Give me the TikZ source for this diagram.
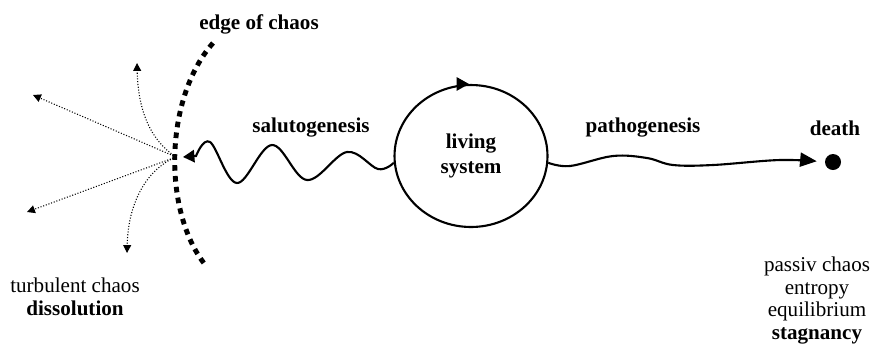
\documentclass[tikz,border=0pt]{standalone}
\usepackage{fontspec}
\setmainfont{Liberation Serif}
\usetikzlibrary{arrows.meta,shapes.geometric,calc}

\tikzset{
	lbl/.style={font=\fontsize{12}{13}\selectfont\bfseries},
	plain/.style={align=center, inner sep=0pt, font=\fontsize{12}{13}\selectfont},
	wave/.style={line width=1.2pt},
	spray/.style={densely dotted, line width=0.6pt, -{Triangle[length=4.5pt,width=4.5pt]}},
	edgeline/.style={line width=2.8pt, dash pattern=on 3.2pt off 3pt}
}

\begin{document}
\begin{tikzpicture}[x=0.02cm, y=-0.02cm]

		\useasboundingbox (0,0) rectangle (871,343);

		\node[ellipse, draw, line width=1.2pt, minimum width=3.06cm, minimum height=2.84cm, inner sep=0pt, align=center, font=\fontsize{12}{14}\selectfont\bfseries] (sys) at (471,156) {living\\system};
		\draw[line width=1.2pt, -{Triangle[length=7pt,width=7.5pt]}] ($(sys.north)+(-14,0)$) -- ($(sys.north)+(-2,0)$);

		\node[circle, fill, inner sep=0pt, minimum size=0.32cm] (death) at (833,162) {};
		\node[lbl] (deathlbl) at (835,128) {death};
		\node[plain, anchor=north, font=\fontsize{12}{12.8}\selectfont] (stag) at (817,257) {passiv chaos\\entropy\\equilibrium\\\textbf{stagnancy}};

		\coordinate (hub) at (176,157);
		\coordinate (edge) at (183,157);
		\coordinate (t1) at (33,95);
		\coordinate (t2) at (27,212);
		\coordinate (t3) at (137,63);
		\coordinate (t4) at (127,253);

		\draw[edgeline] (213,43) .. controls (163,100) and (163,215) .. (207,267);

		\node[lbl] (edgelbl) at (259,24) {edge of chaos};
		\node[lbl] (salulbl) at (311,128) {salutogenesis};
		\node[lbl] (pathlbl) at (643,128) {pathogenesis};
		\node[plain, anchor=north] (turb) at (75,278) {turbulent chaos\\\textbf{dissolution}};

		\draw[wave, -{Triangle[length=6.5pt,width=7pt]}] plot[smooth, tension=0.6] coordinates {(sys.185) (378,169) (347,152) (307,180) (272,145) (237,183) (210,142) (196,156)} -- (edge);
		\draw[wave, shorten >=4.5pt, -{Triangle[length=9.5pt,width=8pt]}] plot[smooth, tension=0.6] coordinates {(sys.355) (570,166) (613,156) (647,158) (673,165) (713,165) (780,160) (death.west)};

		\draw[spray] (hub) -- (t1);
		\draw[spray] (hub) -- (t2);
		\draw[spray] (hub) .. controls (150,140) and (138,110) .. (t3);
		\draw[spray] (hub) .. controls (145,170) and (128,205) .. (t4);

\end{tikzpicture}
\end{document}
